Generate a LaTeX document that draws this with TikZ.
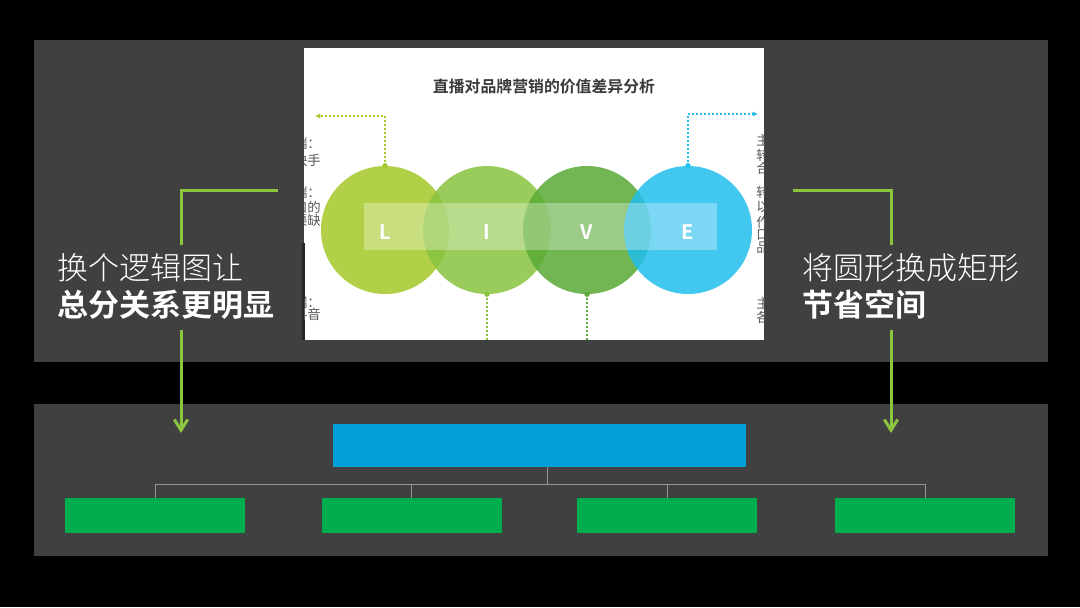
\documentclass[tikz,border=0pt]{standalone}
\usepackage{fontspec}
\usetikzlibrary{arrows.meta}
\newfontfamily\cjk{Noto Sans CJK SC}
\IfFontExistsTF{Noto Sans CJK SC Light}
  {\newfontfamily\cjklight{Noto Sans CJK SC Light}}
  {\newfontfamily\cjklight{Noto Sans CJK SC}}
\IfFontExistsTF{Noto Sans CJK SC Bold}
  {\newfontfamily\cjkbold{Noto Sans CJK SC Bold}}
  {\newfontfamily\cjkbold{Noto Sans CJK SC}[FakeBold=3]}
\definecolor{panel}{HTML}{404040}
\definecolor{arrowgreen}{RGB}{140,198,63}
\definecolor{topblue}{HTML}{009FD6}
\definecolor{boxgreen}{HTML}{00AE4F}
\definecolor{linkgray}{RGB}{150,150,150}
\definecolor{titlegray}{HTML}{3A3A3A}
\definecolor{fraggray}{HTML}{5A5A5A}
\definecolor{colL}{RGB}{164,200,40}
\definecolor{colI}{RGB}{137,196,63}
\definecolor{colV}{RGB}{90,170,55}
\definecolor{colE}{RGB}{33,190,237}
\tikzset{
  bigtext/.style={anchor=west, inner sep=0pt, white},
  callout/.style={arrowgreen, line width=2.25pt},
  ring/.style={circle, inner sep=0pt, minimum size=96pt, fill opacity=0.85},
  letter/.style={white, font=\cjkbold\fontsize{15pt}{15pt}\selectfont},
  link/.style={line width=1pt, dotted},
  frag/.style={fraggray, inner sep=0pt, font=\cjk\fontsize{10pt}{12pt}\selectfont},
  orgbox/.style={inner sep=0pt, minimum height=26.25pt, minimum width=135pt, fill=boxgreen}
}
\begin{document}
\begin{tikzpicture}[x=0.75pt,y=-0.75pt]
  \fill[black] (0,0) rectangle (1080,607);
  \useasboundingbox (0,0) rectangle (1080,607);
  \fill[panel] (34,40) rectangle (1048,362);
  \fill[panel] (34,404) rectangle (1048,556);

  % screenshot of the old slide
  \fill[white] (304,48) rectangle (764,340);
  \fill[black!85] (302,243) rectangle (305,340);
  \node[titlegray] (title) at (544,87)
    {\cjkbold\fontsize{11.9pt}{14pt}\selectfont 直播对品牌营销的价值差异分析};
  \node[ring, fill=colL] (L) at (385,230) {};
  \node[ring, fill=colI] (I) at (487,230) {};
  \node[ring, fill=colV] (V) at (587,230) {};
  \node[ring, fill=colE] (E) at (688,230) {};
  \fill[white, fill opacity=0.3] (364,203) rectangle (717,250);
  \node[letter] (Ltext) at (385,232) {L};
  \node[letter] (Itext) at (487,232) {I};
  \node[letter] (Vtext) at (587,232) {V};
  \node[letter] (Etext) at (688,232) {E};
  \coordinate (Lend) at (315,116);
  \coordinate (Eend) at (758,114);
  \coordinate (Iend) at (487,340);
  \coordinate (Vend) at (587,340);
  \draw[link, colL, -{Latex[length=4pt,width=4pt]}] (L.north) |- (Lend);
  \draw[link, colE, -{Latex[length=4pt,width=4pt]}] (E.north) |- (Eend);
  \draw[link, colI] (I.south) -- (Iend);
  \draw[link, colV] (V.south) -- (Vend);
  \fill[colL] (L.north) circle[radius=2pt];
  \fill[colE] (E.north) circle[radius=2pt];
  \fill[colI] (I.south) circle[radius=2pt];
  \fill[colV] (V.south) circle[radius=2pt];
  \begin{scope}
    \clip (304,48) rectangle (764,340);
    \node[frag, anchor=east] (f1) at (321,143) {端：};
    \node[frag, anchor=east] (f2) at (321,160) {快手};
    \node[frag, anchor=east] (f3) at (321,192) {端：};
    \node[frag, anchor=east] (f4) at (321,207) {口的};
    \node[frag, anchor=east] (f5) at (321,220) {渠缺};
    \node[frag, anchor=east] (f6) at (321,302) {端：};
    \node[frag, anchor=east] (f7) at (321,314) {抖音};
    \node[frag, anchor=west] (g1) at (756,140) {主};
    \node[frag, anchor=west] (g2) at (756,155) {转};
    \node[frag, anchor=west] (g3) at (756,168) {合};
    \node[frag, anchor=west] (g4) at (756,192) {转};
    \node[frag, anchor=west] (g5) at (756,207) {以};
    \node[frag, anchor=west] (g6) at (756,222) {作};
    \node[frag, anchor=west] (g7) at (756,235) {口};
    \node[frag, anchor=west] (g8) at (756,248) {品};
    \node[frag, anchor=west] (g9) at (756,303) {主};
    \node[frag, anchor=west] (g10) at (756,317) {各};
  \end{scope}

  % callouts
  \node[bigtext] (left1) at (57,268)
    {\cjklight\fontsize{23.25pt}{28pt}\selectfont 换个逻辑图让};
  \node[bigtext] (left2) at (57,305)
    {\cjkbold\fontsize{23.25pt}{28pt}\selectfont 总分关系更明显};
  \node[bigtext] (right1) at (802,268)
    {\cjklight\fontsize{23.25pt}{28pt}\selectfont 将圆形换成矩形};
  \node[bigtext] (right2) at (802,305)
    {\cjkbold\fontsize{23.25pt}{28pt}\selectfont 节省空间};
  \coordinate (leftstart) at (278,190);
  \coordinate (lefttop) at (181,245);
  \coordinate (leftbottom) at (181,330);
  \coordinate (lefttip) at (181,433);
  \coordinate (rightstart) at (793,190);
  \coordinate (righttop) at (891,245);
  \coordinate (rightbottom) at (891,330);
  \coordinate (righttip) at (891,433);
  \draw[callout] (leftstart) -| (lefttop);
  \draw[callout, -{Straight Barb[length=8pt,width=10pt]}] (leftbottom) -- (lefttip);
  \draw[callout] (rightstart) -| (righttop);
  \draw[callout, -{Straight Barb[length=8pt,width=10pt]}] (rightbottom) -- (righttip);

  % tree
  \node[inner sep=0pt, minimum width=309.75pt, minimum height=32.25pt, fill=topblue] (top) at (539.5,445.5) {};
  \node[orgbox] (b1) at (155,515.5) {};
  \node[orgbox] (b2) at (411.5,515.5) {};
  \node[orgbox] (b3) at (667,515.5) {};
  \node[orgbox] (b4) at (925,515.5) {};
  \coordinate (hub) at (547,484);
  \begin{scope}[linkgray, line width=0.75pt]
    \draw (hub |- top.south) -- (hub);
    \draw (b1.north) |- (hub);
    \draw (b2.north) |- (hub);
    \draw (b3.north) |- (hub);
    \draw (b4.north) |- (hub);
  \end{scope}
\end{tikzpicture}
\end{document}
